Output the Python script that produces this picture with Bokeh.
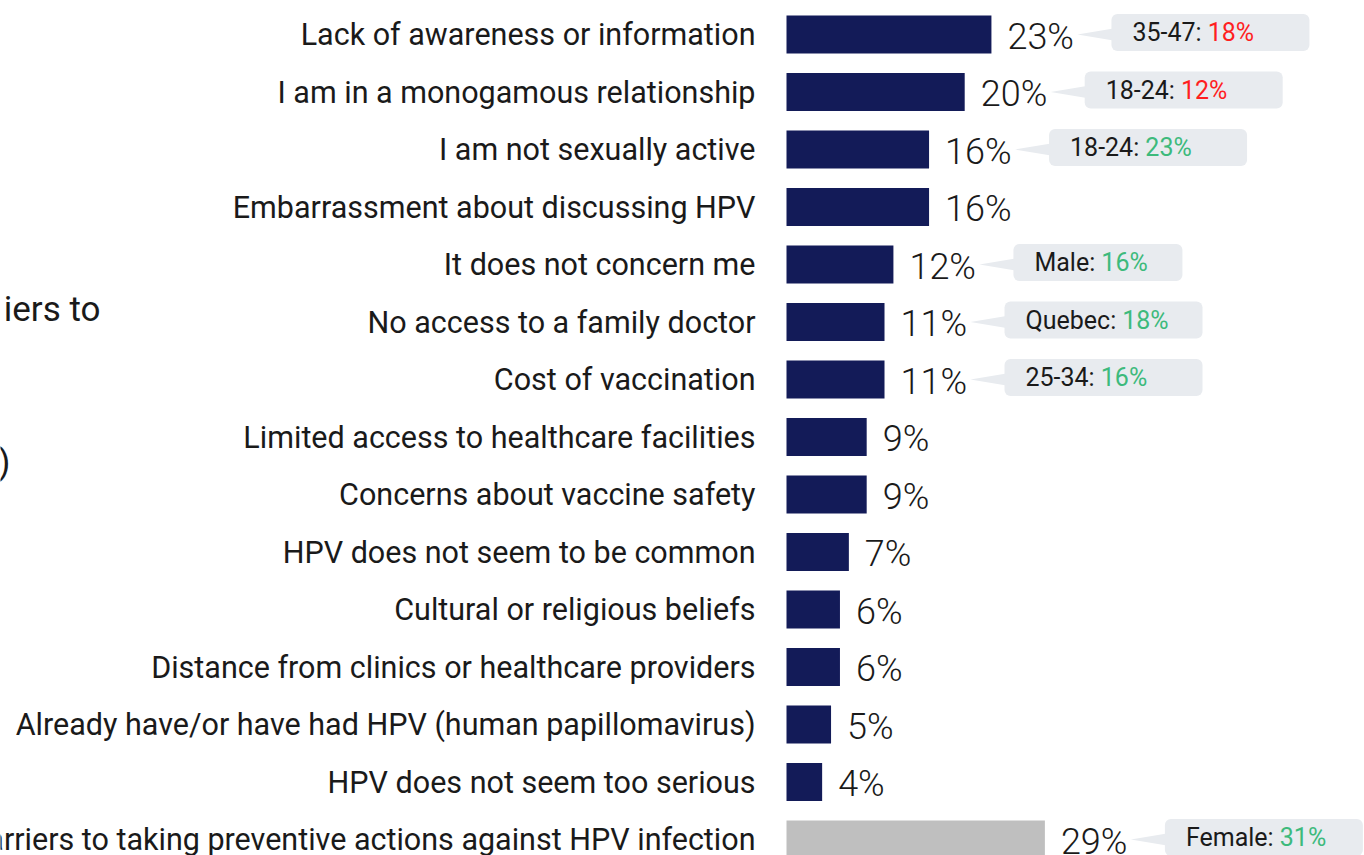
from bokeh.plotting import figure
from bokeh.models import Range1d, ColumnDataSource, BoxAnnotation
from bokeh.core.properties import value
from bokeh.embed import file_html
from bokeh.resources import INLINE

# ---------------- data ----------------
categories = [
    "Lack of awareness or information",
    "I am in a monogamous relationship",
    "I am not sexually active",
    "Embarrassment about discussing HPV",
    "It does not concern me",
    "No access to a family doctor",
    "Cost of vaccination",
    "Limited access to healthcare facilities",
    "Concerns about vaccine safety",
    "HPV does not seem to be common",
    "Cultural or religious beliefs",
    "Distance from clinics or healthcare providers",
    "Already have/or have had HPV (human papillomavirus)",
    "HPV does not seem too serious",
    "No barriers to taking preventive actions against HPV infection",
]
values = [23, 20, 16, 16, 12, 11, 11, 9, 9, 7, 6, 6, 5, 4, 29]

callout_rows = [0, 1, 2, 4, 5, 6, 14]
callout_groups = ["35-47", "18-24", "18-24", "Male", "Quebec", "25-34", "Female"]
callout_values = [18, 12, 23, 16, 18, 16, 31]

title_fragments = ["iers to", ")"]

# ---------------- layout / style ----------------
W, H = 1364, 855
PX = 8.91          # pixels per percent
ROW = 57.5         # pixels per row
ZERO_X = 786       # canvas x of 0%
FIRST_Y = 34       # canvas y of first row centre

NAVY = "#131b58"
GRAY = "#bfbfbf"
BOX = "#e8ebef"
RED = "#ff1f1f"
GREEN = "#3dba7c"
TXT = "#1a1a1a"
FONT = "Roboto"
LIGHT = "Roboto Light"

x_range = Range1d(-ZERO_X / PX, (W - ZERO_X) / PX)
y_range = Range1d((H - FIRST_Y) / ROW, -FIRST_Y / ROW)

p = figure(width=W, height=H, x_range=x_range, y_range=y_range,
           x_axis_type=None, y_axis_type=None, toolbar_location=None,
           output_backend="svg", min_border=0)
p.outline_line_color = None
p.grid.visible = False
p.background_fill_color = "white"
p.border_fill_color = "white"

rows = list(range(len(categories)))
colors = [NAVY] * (len(categories) - 1) + [GRAY]
src = ColumnDataSource(dict(y=rows, v=values, cat=categories, c=colors,
                            pct=[f"{v}%" for v in values]))

p.hbar(y="y", left=0, right="v", height=38 / ROW, fill_color="c",
       line_color=None, source=src)

p.text(x=0, y="y", text="cat", source=src, x_offset=-31, text_align="right",
       text_baseline="middle", text_font=value(FONT), text_font_size="30.5px",
       text_color=TXT)

p.text(x="v", y="y", text="pct", source=src, x_offset=16, y_offset=2,
       text_align="left", text_baseline="middle", text_font=value(LIGHT),
       text_font_size="36px", text_color=TXT)

# --------- callouts ---------
ADV = {**{d: 0.5615 for d in "0123456789"}, "-": 0.276, ":": 0.242, " ": 0.248,
       "M": 0.872, "a": 0.544, "l": 0.242, "e": 0.529, "Q": 0.688, "u": 0.55,
       "b": 0.561, "c": 0.523, "F": 0.547, "m": 0.876}
CFS = 25


def text_w(s, fs):
    return sum(ADV.get(ch, 0.55) for ch in s) * fs


box_h = 37
tail_len = 34
gap = 120
pad = 21

tx, ty, pre_x, pre_t, val_x, val_t, val_c = [], [], [], [], [], [], []
for r, g, cv in zip(callout_rows, callout_groups, callout_values):
    base = values[r]
    left = base + gap / PX
    prefix = f"{g}: "
    tw = text_w(prefix + f"{cv}%", CFS)
    box_w = 198 if tw > 115 else 169
    right = left + box_w / PX
    cy = r - 2 / ROW
    p.add_layout(BoxAnnotation(left=left, right=right, top=cy - box_h / 2 / ROW,
                               bottom=cy + box_h / 2 / ROW, fill_color=BOX,
                               fill_alpha=1, line_color=None, border_radius=6,
                               level="underlay"))
    tx.append([left - tail_len / PX, left + 2 / PX, left + 2 / PX])
    ty.append([r, r - 6 / ROW, r + 6 / ROW])
    pre_x.append(left + pad / PX)
    pre_t.append(prefix)
    val_x.append(left + (pad + text_w(prefix, CFS)) / PX)
    val_t.append(f"{cv}%")
    val_c.append(RED if cv < base else GREEN)

p.patches(xs=tx, ys=ty, fill_color=BOX, line_color=None)
cy_list = [r - 2 / ROW for r in callout_rows]
p.text(x=pre_x, y=cy_list, text=pre_t, text_align="left", text_baseline="middle",
       text_font=value(FONT), text_font_size=f"{CFS}px", text_color=TXT)
p.text(x=val_x, y=cy_list, text=val_t, text_align="left", text_baseline="middle",
       text_font=value(FONT), text_font_size=f"{CFS}px", text_color=val_c)

# --------- cropped title fragments on the left ---------
p.text(x=[0, 0], y=[(309 - 34) / ROW, (462 - 34) / ROW], text=title_fragments,
       x_offset=[-686, -776], text_align="right", text_baseline="middle",
       text_font=value(FONT), text_font_size="35px", text_color=TXT)

open("out.html", "w").write(file_html(p, INLINE))
